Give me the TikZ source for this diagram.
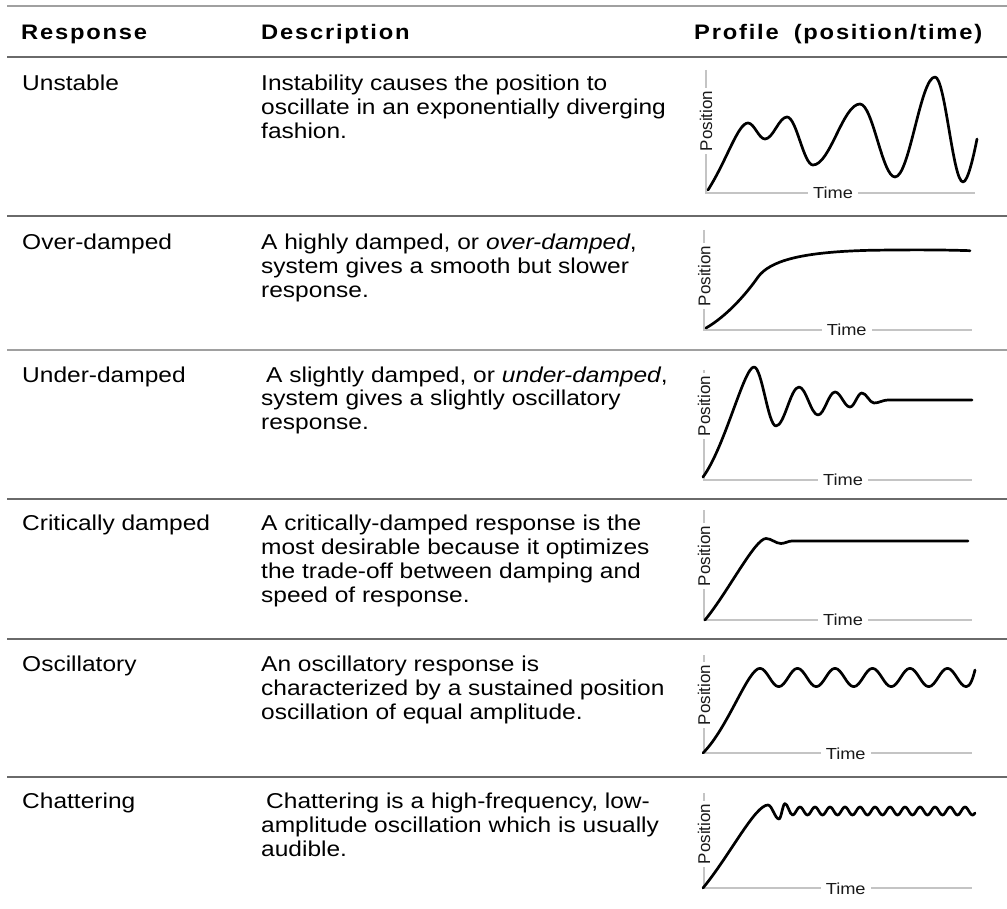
\documentclass[tikz,border=0pt]{standalone}
\usepackage{fontspec}
\setmainfont[FakeStretch=1.14]{Liberation Sans}
\newfontfamily\hdrfont[FakeStretch=1.13,LetterSpace=8.5]{Liberation Sans}
\newfontfamily\axfont{Liberation Sans}
\definecolor{rulec}{HTML}{6A6A6A}
\definecolor{rulelight}{HTML}{A0A0A0}
\definecolor{axisc}{HTML}{C4C4C4}
\definecolor{labc}{HTML}{1A1A1A}
\newcommand\plotaxes[7]{%
  \draw[axisl] (#2,#4) -- (#2,#3) -- (#5,#3);
  \node[poslab] (#1pos) at (#2,#7) {Position};
  \node[timelab] (#1time) at (#6,#3) {Time};
}
\newcommand\desc[1]{\begin{tabular}[t]{@{}l@{}}#1\end{tabular}}
\begin{document}
\begin{tikzpicture}[x=1pt,y=1pt,
  rulel/.style={line width=1.2pt, draw=rulec},
  rulell/.style={line width=1.6pt, draw=rulelight},
  axisl/.style={line width=1.8pt, draw=axisc},
  curve/.style={line width=2.7pt, line cap=round, line join=round},
  hdr/.style={anchor=base west, inner sep=0pt, font=\hdrfont\bfseries\fontsize{21}{24}\selectfont},
  cell/.style={anchor=base west, inner sep=0pt, font=\fontsize{21.5}{24}\selectfont},
  poslab/.style={rotate=90, fill=white, inner xsep=3pt, inner ysep=0pt, text=labc, font=\axfont\fontsize{17}{20}\selectfont},
  timelab/.style={fill=white, inner xsep=5pt, inner ysep=1pt, text=labc, font=\fontsize{16}{19}\selectfont},
]
\useasboundingbox (0,0) rectangle (1007,-909);

% rules
\draw[rulell] (7,-6) -- (1007,-6);
\draw[rulel] (7,-57) -- (1007,-57);
\draw[rulel] (7,-216) -- (1007,-216);
\draw[rulell] (7,-350) -- (1007,-350);
\draw[rulel] (7,-499) -- (1007,-499);
\draw[rulel] (7,-639) -- (1007,-639);
\draw[rulel] (7,-777) -- (1007,-777);

% header
\node[hdr] (h1) at (21,-40) {Response};
\node[hdr] (h2) at (261,-40) {Description};
\node[hdr] (h3) at (694,-40) {Profile\hspace{15pt}(position/time)};

% rows
\node[cell] (r1) at (22,-91) {Unstable};
\node[cell] (d1) at (261,-91) {\desc{Instability causes the position to\\ oscillate in an exponentially diverging\\ fashion.}};

\node[cell] (r2) at (22,-250) {Over-damped};
\node[cell] (d2) at (261,-250) {\desc{A highly damped, or \emph{over-damped},\\ system gives a smooth but slower\\ response.}};

\node[cell] (r3) at (22,-382) {Under-damped};
\node[cell] (d3a) at (266,-382) {A slightly damped, or \emph{under-damped},};
\node[cell] (d3) at (261,-406) {\desc{system gives a slightly oscillatory\\ response.}};

\node[cell] (r4) at (22,-530) {Critically damped};
\node[cell] (d4) at (261,-530) {\desc{A critically-damped response is the\\ most desirable because it optimizes\\ the trade-off between damping and\\ speed of response.}};

\node[cell] (r5) at (22,-671) {Oscillatory};
\node[cell] (d5) at (261,-671) {\desc{An oscillatory response is\\ characterized by a sustained position\\ oscillation of equal amplitude.}};

\node[cell] (r6) at (22,-808) {Chattering};
\node[cell] (d6a) at (266,-808) {Chattering is a high-frequency, low-};
\node[cell] (d6) at (261,-832) {\desc{amplitude oscillation which is usually\\ audible.}};

% axes
\plotaxes{pa}{706}{-193}{-70}{975}{833}{-121}
\plotaxes{pb}{704.3}{-330}{-230}{971.7}{846.7}{-276}
\plotaxes{pc}{704}{-480}{-370}{971.7}{843}{-406}
\plotaxes{pd}{704}{-620}{-510}{971.7}{843}{-556}
\plotaxes{pe}{704}{-753.3}{-655}{971.7}{845.7}{-695}
\plotaxes{pf}{704}{-888.3}{-793.3}{971.7}{845.7}{-834}

% curves
\draw[curve] (708,-190) .. controls (727,-160) and (738,-123) .. (748,-123)
  .. controls +(6.2,0) and +(-6.2,0) .. (765,-139)
  .. controls +(8,0) and +(-8,0) .. (787,-117)
  .. controls +(9.5,0) and +(-9.5,0) .. (813,-165)
  .. controls +(17,0) and +(-17,0) .. (860,-104)
  .. controls +(12.7,0) and +(-12.7,0) .. (895,-177)
  .. controls +(14.5,0) and +(-14.5,0) .. (935,-77)
  .. controls +(10.2,0) and +(-10.2,0) .. (963,-182)
  .. controls +(5,0) and +(-3,-15) .. (977,-139);

\draw[curve] (706,-328) .. controls (727,-316) and (747,-293) .. (758,-277)
  .. controls (770,-261) and (800,-252) .. (870,-250.3)
  .. controls (920,-249.5) and (950,-250) .. (970,-250.7);

\draw[curve] (703,-477) .. controls (725,-447) and (744,-367) .. (754,-367)
  .. controls +(8,0) and +(-8,0) .. (776,-426)
  .. controls +(8.4,0) and +(-8.4,0) .. (799,-387)
  .. controls +(6.9,0) and +(-6.9,0) .. (818,-415)
  .. controls +(6.2,0) and +(-6.2,0) .. (835,-392)
  .. controls +(5.5,0) and +(-5.5,0) .. (850,-407)
  .. controls +(4.4,0) and +(-4.4,0) .. (862,-393)
  .. controls +(4.4,0) and +(-4.4,0) .. (874,-403)
  .. controls +(5.1,0) and +(-5.1,0) .. (888,-400) -- (972,-400);

\draw[curve] (705,-620) .. controls (728,-592) and (755,-538.5) .. (766,-538.5)
  .. controls +(5.5,0) and +(-5.5,0) .. (781,-543.5)
  .. controls +(4,0) and +(-4,0) .. (792,-541) -- (968,-541);

\draw[curve] (703,-753) .. controls (728,-728) and (748,-668.3) .. (760,-668.3)
  .. controls +(6.8,0) and +(-6.8,0) .. (778.75,-686.7)
  .. controls +(6.8,0) and +(-6.8,0) .. (797.5,-668.3)
  .. controls +(6.8,0) and +(-6.8,0) .. (816.25,-686.7)
  .. controls +(6.8,0) and +(-6.8,0) .. (835,-668.3)
  .. controls +(6.8,0) and +(-6.8,0) .. (853.75,-686.7)
  .. controls +(6.8,0) and +(-6.8,0) .. (872.5,-668.3)
  .. controls +(6.8,0) and +(-6.8,0) .. (891.25,-686.7)
  .. controls +(6.8,0) and +(-6.8,0) .. (910,-668.3)
  .. controls +(6.8,0) and +(-6.8,0) .. (928.75,-686.7)
  .. controls +(6.8,0) and +(-6.8,0) .. (947.5,-668.3)
  .. controls +(6.8,0) and +(-6.8,0) .. (966.25,-686.7)
  .. controls +(4,0) and +(-2,-8) .. (975,-670);

\draw[curve] (703,-888) .. controls (730,-855) and (755,-805) .. (768,-805)
  .. controls +(4,0) and +(-4,0) .. (779,-819)
  .. controls +(2.2,0) and +(-2.2,0) .. (785,-803.5)
  .. controls +(2.7,0) and +(-2.7,0) .. (792.5,-815)
  -- plot[domain=792.5:975, samples=180, smooth] (\x,{-811+4*cos(24*(\x-800))});
\end{tikzpicture}
\end{document}
